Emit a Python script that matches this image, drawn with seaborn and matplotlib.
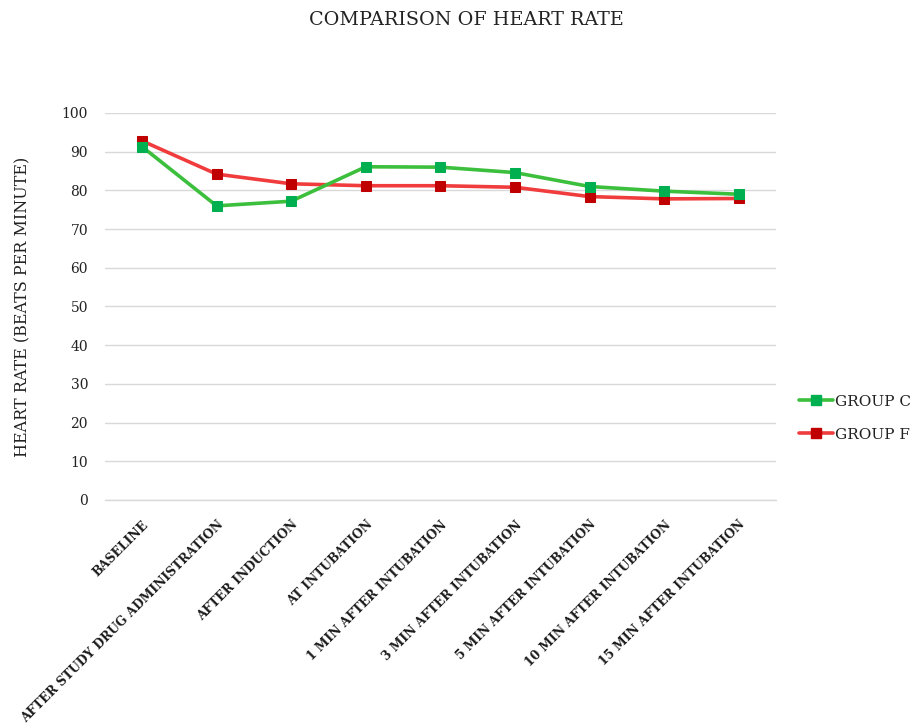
import matplotlib
matplotlib.use("Agg")
import matplotlib.pyplot as plt
import seaborn as sns
import pandas as pd
from matplotlib.lines import Line2D

# Time points of heart-rate measurement
time_points = [
    "BASELINE",
    "AFTER STUDY DRUG ADMINISTRATION",
    "AFTER INDUCTION",
    "AT INTUBATION",
    "1 MIN AFTER INTUBATION",
    "3 MIN AFTER INTUBATION",
    "5 MIN AFTER INTUBATION",
    "10 MIN AFTER INTUBATION",
    "15 MIN AFTER INTUBATION",
]

# Mean heart rate (beats per minute)
group_c = [91.3, 76.0, 77.2, 86.1, 86.0, 84.6, 81.0, 79.8, 79.0]
group_f = [92.8, 84.2, 81.7, 81.2, 81.2, 80.8, 78.4, 77.8, 77.9]

y_ticks = [0, 10, 20, 30, 40, 50, 60, 70, 80, 90, 100]

series_names = ["GROUP C", "GROUP F"]
line_colors = {"GROUP C": "#3cbf3c", "GROUP F": "#f03c3c"}
marker_colors = {"GROUP C": "#00b050", "GROUP F": "#c00000"}

df = pd.DataFrame({
    "time": time_points * 2,
    "pos": list(range(len(time_points))) * 2,
    "hr": group_c + group_f,
    "group": ["GROUP C"] * len(group_c) + ["GROUP F"] * len(group_f),
})

sns.set_theme(style="white")
plt.rcParams["font.family"] = ["DejaVu Serif", "Liberation Serif"]

fig = plt.figure(figsize=(9.21, 7.26), dpi=100)
ax = fig.add_axes([0.1137, 0.3113, 0.7289, 0.5331])

for name in series_names:
    sub = df[df["group"] == name]
    sns.lineplot(
        data=sub, x="pos", y="hr", ax=ax, sort=False,
        color=line_colors[name], linewidth=2.6,
        marker="s", markersize=6.5,
        markerfacecolor=marker_colors[name],
        markeredgecolor=marker_colors[name],
        zorder=3 if name == "GROUP F" else 4,
    )

ax.set_xlim(-0.5, len(time_points) - 0.5)
ax.set_ylim(0, 100)
ax.set_yticks(y_ticks)
ax.set_yticklabels([str(v) for v in y_ticks], fontsize=10, color="#222222")
ax.set_xticks(range(len(time_points)))
ax.set_xticklabels(time_points, rotation=45, ha="right", rotation_mode="anchor",
                   fontsize=8.8, fontweight="bold", color="#1a1a1a")
ax.tick_params(axis="y", length=0, pad=12)
ax.tick_params(axis="x", length=0, pad=13)

ax.grid(axis="y", color="#d9d9d9", linewidth=1)
for side in ["top", "right", "left"]:
    ax.spines[side].set_visible(False)
ax.spines["bottom"].set_color("#d9d9d9")
ax.spines["bottom"].set_linewidth(1)

ax.set_xlabel("")
ax.set_ylabel("HEART RATE (BEATS PER MINUTE)", fontsize=11.5, color="#222222", labelpad=22)

fig.text(0.506, 0.972, "COMPARISON OF HEART RATE", ha="center", va="center",
         fontsize=13.8, color="#222222")

handles = [
    Line2D([0], [0], color=line_colors[n], linewidth=2.6, marker="s", markersize=6.5,
           markerfacecolor=marker_colors[n], markeredgecolor=marker_colors[n])
    for n in series_names
]
fig.legend(handles, series_names, loc="center left", bbox_to_anchor=(0.853, 0.424),
           frameon=False, fontsize=11, handlelength=2.2, handletextpad=0.15,
           labelspacing=1.25, labelcolor="#222222")

fig.savefig("out.png", dpi=100)
